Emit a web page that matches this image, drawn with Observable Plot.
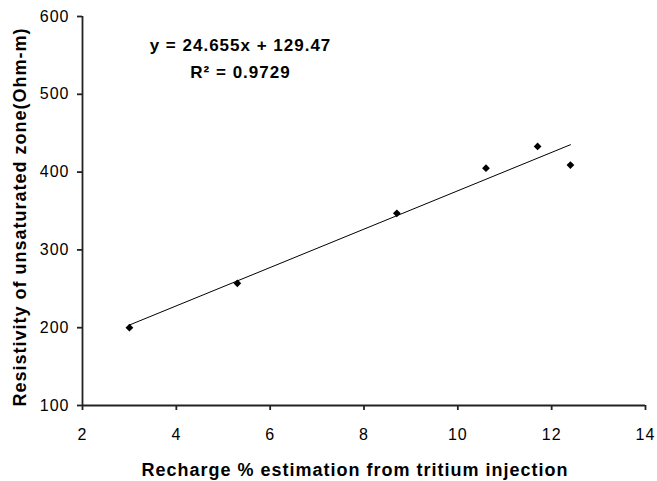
<!DOCTYPE html>
<html>
<head>
<meta charset="utf-8">
<script src="https://cdn.jsdelivr.net/npm/d3@7"></script>
<script src="https://cdn.jsdelivr.net/npm/@observablehq/plot@0.6"></script>
<style>
  html, body { margin: 0; padding: 0; background: #fff; }
  #chart { width: 657px; height: 481px; }
</style>
</head>
<body>
<div id="chart"></div>
<script>
const recharge = [3.0, 5.3, 8.7, 10.6, 11.7, 12.4];
const resistivity = [200, 257, 347, 405, 433, 409];
const slope = 24.655;
const intercept = 129.47;
const equationText = "y = 24.655x + 129.47";
const r2Text = "R\u00B2 = 0.9729";
const xTicks = [2, 4, 6, 8, 10, 12, 14];
const yTicks = [100, 200, 300, 400, 500, 600];
const xLabel = "Recharge % estimation from tritium injection";
const yLabel = "Resistivity of unsaturated zone(Ohm-m)";

const points = recharge.map((x, i) => ({x, y: resistivity[i]}));
const xs = d3.extent(recharge);
const fit = xs.map(x => ({x, y: slope * x + intercept}));

const font = "'Liberation Sans', Arial, sans-serif";

const chart = Plot.plot({
  width: 657,
  height: 481,
  marginLeft: 82,
  marginRight: 12,
  marginTop: 16,
  marginBottom: 76,
  style: {fontFamily: font, fontSize: "16px", color: "#000", background: "#fff", letterSpacing: "1px"},
  x: {domain: [2, 14]},
  y: {domain: [100, 600]},
  marks: [
    Plot.axisX({ticks: xTicks, tickSize: 5, tickPadding: 18, fontSize: 16, stroke: "#222", strokeWidth: 1.8,
      label: null}),
    Plot.axisY({ticks: yTicks, tickSize: 5, tickPadding: 8, fontSize: 16, stroke: "#222", strokeWidth: 1.8,
      label: null}),
    Plot.ruleY([100], {stroke: "#222", strokeWidth: 1.8}),
    Plot.ruleX([2], {stroke: "#222", strokeWidth: 1.8}),
    Plot.line(fit, {x: "x", y: "y", stroke: "#000", strokeWidth: 1}),
    Plot.dot(points, {x: "x", y: "y", symbol: "diamond2", r: 3.5, fill: "#000", stroke: "none"}),
    Plot.text([equationText], {frameAnchor: "top-left", dx: 158, dy: 22, fontSize: 17, fontWeight: "bold", textAnchor: "middle", text: d => d}),
    Plot.text([r2Text], {frameAnchor: "top-left", dx: 158, dy: 49, fontSize: 17, fontWeight: "bold", textAnchor: "middle", text: d => d}),
    Plot.text([xLabel], {frameAnchor: "bottom", dy: 70, dx: -9, fontSize: 18, fontWeight: "bold", textAnchor: "middle", text: d => d}),
    Plot.text([yLabel], {frameAnchor: "left", dx: -62, dy: 6, rotate: -90, fontSize: 18, fontWeight: "bold", textAnchor: "middle", text: d => d})
  ]
});
document.getElementById("chart").appendChild(chart);
</script>
</body>
</html>
